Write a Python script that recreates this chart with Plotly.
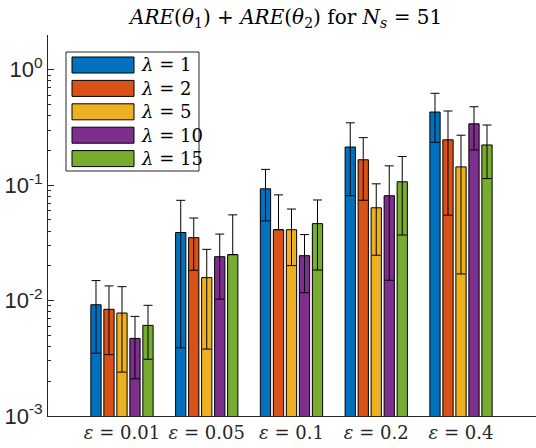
import plotly.graph_objects as go

# ---- data ----
eps_labels = ["0.01", "0.05", "0.1", "0.2", "0.4"]
lambdas = [1, 2, 5, 10, 15]
colors = ["#0072BD", "#D95319", "#EDB120", "#7E2F8E", "#77AC30"]

are_l1 = [0.0092, 0.0389, 0.0930, 0.214, 0.430]
are_l2 = [0.0084, 0.0351, 0.0411, 0.166, 0.247]
are_l5 = [0.0078, 0.0158, 0.0411, 0.0637, 0.144]
are_l10 = [0.0047, 0.0240, 0.0245, 0.081, 0.340]
are_l15 = [0.0061, 0.0250, 0.0464, 0.107, 0.223]

std_l1 = [0.0057, 0.0350, 0.0440, 0.133, 0.195]
std_l2 = [0.0050, 0.0168, 0.0413, 0.092, 0.192]
std_l5 = [0.0054, 0.0120, 0.0210, 0.039, 0.127]
std_l10 = [0.0026, 0.0137, 0.0128, 0.066, 0.138]
std_l15 = [0.0030, 0.0303, 0.0280, 0.070, 0.109]

values = [are_l1, are_l2, are_l5, are_l10, are_l15]
errors = [std_l1, std_l2, std_l5, std_l10, std_l15]

# ---- layout geometry (pixels) ----
W, H = 536, 448
L, R, T, B = 48, 0, 35, 32
PW, PH = W - L - R, H - T - B


def px(xp):
    return (xp - L) / PW


def py(yp):
    return (H - B - yp) / PH


xpos = list(range(1, len(eps_labels) + 1))

fig = go.Figure()
for lam, col, v, e in zip(lambdas, colors, values, errors):
    minus = [ei if ei < vi else 0 for vi, ei in zip(v, e)]
    fig.add_trace(go.Bar(
        x=xpos, y=v, name=f"λ = {lam}",
        marker=dict(color=col, line=dict(color="black", width=1)),
        error_y=dict(type="data", array=e, arrayminus=minus, symmetric=False,
                     color="black", thickness=1, width=4.5),
        showlegend=False,
    ))

serif = "DejaVu Serif"
sans = "Arial"

fig.update_layout(
    width=W, height=H,
    margin=dict(l=L, r=R, t=T, b=B),
    paper_bgcolor="white", plot_bgcolor="white",
    font=dict(family=sans),
    barmode="group", bargap=0.233, bargroupgap=0.21,
    xaxis=dict(
        range=[0.127, 5.885], tickvals=xpos,
        ticktext=[f"<i>ε</i> = {s}" for s in eps_labels],
        ticks="", showgrid=False, zeroline=False,
        showline=True, linecolor="#262626", linewidth=1,
        tickfont=dict(family=serif, size=18, color="#262626"),
    ),
    yaxis=dict(
        type="log", range=[-3, 0.301],
        tickvals=[1e-3, 1e-2, 1e-1, 1],
        ticktext=["10<sup>-3</sup>", "10<sup>-2</sup>", "10<sup>-1</sup>", "10<sup>0</sup>"],
        ticks="inside", ticklen=6, tickcolor="#262626",
        minor=dict(tickvals=[m * 10 ** k for k in (-3, -2, -1, 0) for m in range(2, 10) if m * 10 ** k <= 2.0],
                   ticks="inside", ticklen=3, tickcolor="#262626", showgrid=False),
        showgrid=False, zeroline=False,
        showline=True, linecolor="#262626", linewidth=1,
        tickfont=dict(family=sans, size=22, color="#262626"),
    ),
)

# title
fig.add_annotation(
    text="<i>ARE</i>(<i>θ</i><sub>1</sub>) + <i>ARE</i>(<i>θ</i><sub>2</sub>) for <i>N<sub>s</sub></i> = 51",
    xref="paper", yref="paper", x=px(285), y=py(18), xanchor="center", yanchor="middle",
    showarrow=False, font=dict(family=serif, size=20, color="black"),
)

# custom legend (MATLAB style, wide swatches)
fig.add_shape(type="rect", xref="paper", yref="paper",
              x0=px(66), x1=px(199), y0=py(52), y1=py(171),
              line=dict(color="#262626", width=1), fillcolor="white", layer="above")
row_h = 23.4
for i, (lam, col) in enumerate(zip(lambdas, colors)):
    yc = 65 + i * row_h
    fig.add_shape(type="rect", xref="paper", yref="paper",
                  x0=px(72), x1=px(134), y0=py(yc - 8), y1=py(yc + 8),
                  line=dict(color="black", width=1), fillcolor=col, layer="above")
    fig.add_annotation(text=f"<i>λ</i> = {lam}", xref="paper", yref="paper",
                       x=px(139), y=py(yc), xanchor="left", yanchor="middle",
                       showarrow=False, font=dict(family=serif, size=18, color="black"))

fig.write_html("out.html")
